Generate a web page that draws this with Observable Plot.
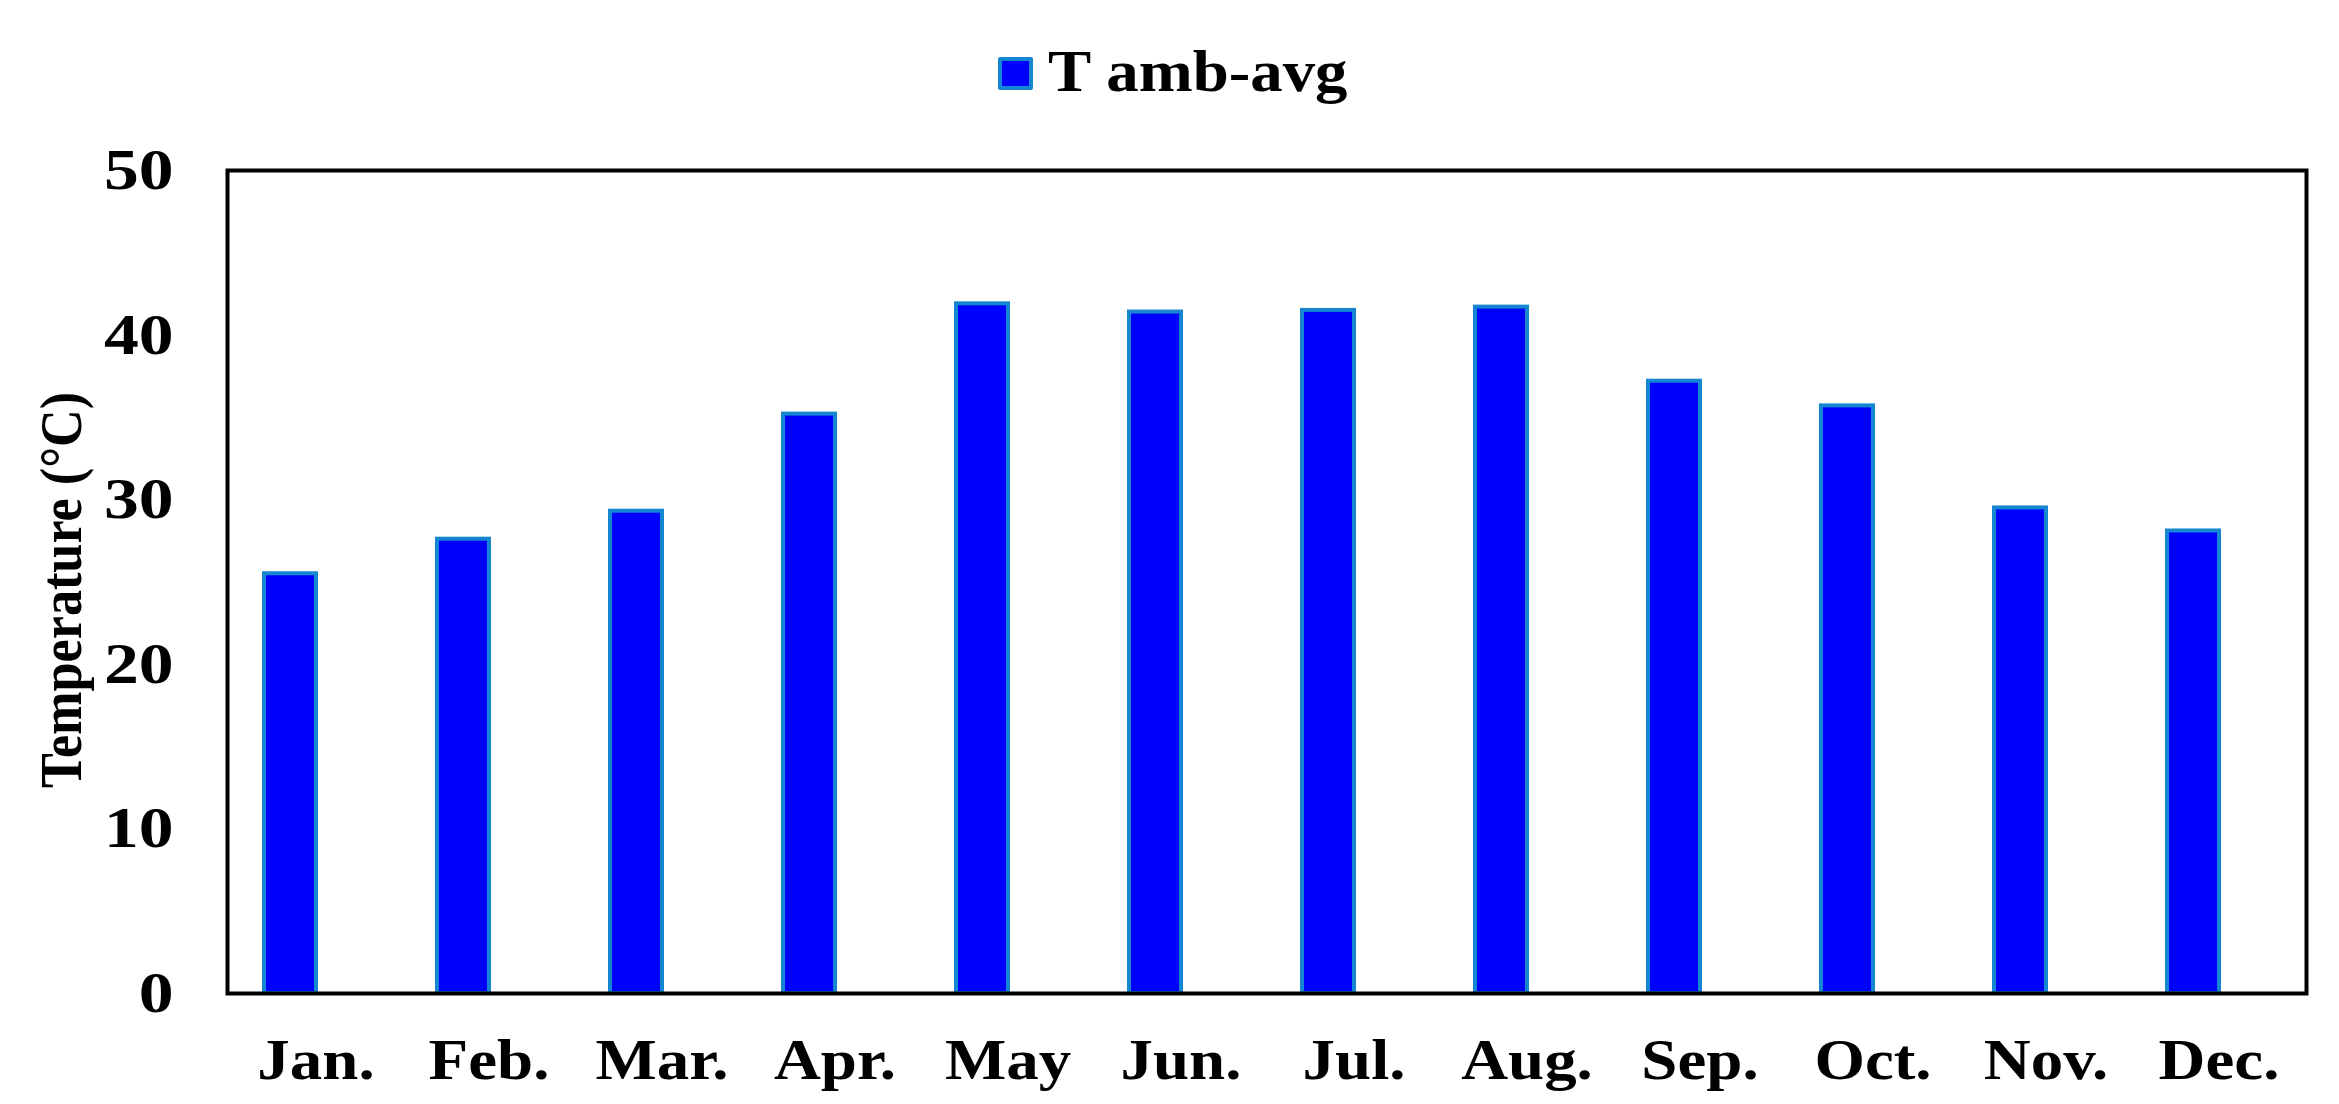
<!DOCTYPE html>
<html>
<head>
<meta charset="utf-8">
<script src="https://cdn.jsdelivr.net/npm/d3@7"></script>
<script src="https://cdn.jsdelivr.net/npm/@observablehq/plot@0.6"></script>
<style>
  html, body { margin: 0; padding: 0; background: #fff; }
  #wrap { position: relative; width: 2339px; height: 1104px; overflow: hidden; }
  #legend { position: relative; width: 2339px; height: 110px; }
  #legend .sw { position: absolute; left: 998px; top: 57px; width: 35px; height: 33px; box-sizing: border-box;
    background: #0000ff; border: 4px solid #1487d0; border-radius: 2px; }
  #legend .lb { position: absolute; left: 1048px; top: 41px; font: bold 60px/60px "Liberation Serif", "Times New Roman", serif; color: #000; white-space: nowrap;
    transform: scaleX(1.08); transform-origin: 0 50%; }
</style>
</head>
<body>
<div id="wrap">
  <div id="legend"><div class="sw"></div><div class="lb">T amb-avg</div></div>
  <div id="chart"></div>
</div>
<script>
const months = ["Jan.", "Feb.", "Mar.", "Apr.", "May", "Jun.", "Jul.", "Aug.", "Sep.", "Oct.", "Nov.", "Dec."];
const tAmbAvg = [25.5, 27.6, 29.3, 35.2, 41.9, 41.4, 41.5, 41.7, 37.2, 35.7, 29.5, 28.1];
const yTicks = [0, 10, 20, 30, 40, 50];
const seriesName = "T amb-avg";
const yLabel = "Temperature (°C)";

const data = months.map((m, i) => ({month: m, value: tAmbAvg[i], series: seriesName}));

const svg = Plot.plot({
  width: 2339,
  height: 994,
  marginLeft: 227,
  marginRight: 33,
  marginTop: 60,
  marginBottom: 111,
  style: {fontFamily: "'Liberation Serif', 'Times New Roman', serif", fontSize: "58px", fontWeight: "bold", color: "#000", background: "#fff"},
  x: {domain: months, padding: 0, tickSize: 0, tickPadding: 44, label: null},
  y: {domain: [0, 50], ticks: yTicks, tickSize: 0, tickPadding: 54, label: null},
  marks: [
    Plot.barY(data, {x: "month", y: "value", fill: "#0000ff", stroke: "#1487d0", strokeWidth: 4, insetLeft: 35, insetRight: 86}),
    Plot.frame({stroke: "#000", strokeWidth: 4}),
    Plot.text([yLabel], {frameAnchor: "left", textAnchor: "middle", rotate: -90, dx: -166, dy: 8, text: d => d, fontSize: 60, fontWeight: "bold", fill: "#000"})
  ]
});
document.getElementById("chart").appendChild(svg);
const root = d3.select(svg);
root.selectAll('g[aria-label="x-axis tick label"] text')
  .attr("transform", function() { return (this.getAttribute("transform") || "") + " scale(1.12,1)"; });
root.selectAll('g[aria-label="y-axis tick label"] text')
  .attr("transform", function() { return (this.getAttribute("transform") || "") + " scale(1.2,1)"; });
root.selectAll("text").filter(function() { return this.textContent === yLabel; })
  .each(function() {
    const el = this;
    const t = el.getAttribute("transform");
    if (t && t.includes("rotate")) {
      el.setAttribute("transform", t + " scale(0.87,1)");
    } else {
      const g = el.parentNode;
      const gt = g.getAttribute("transform") || "";
      if (gt.includes("rotate")) g.setAttribute("transform", gt + " scale(0.87,1)");
    }
  });
</script>
</body>
</html>
